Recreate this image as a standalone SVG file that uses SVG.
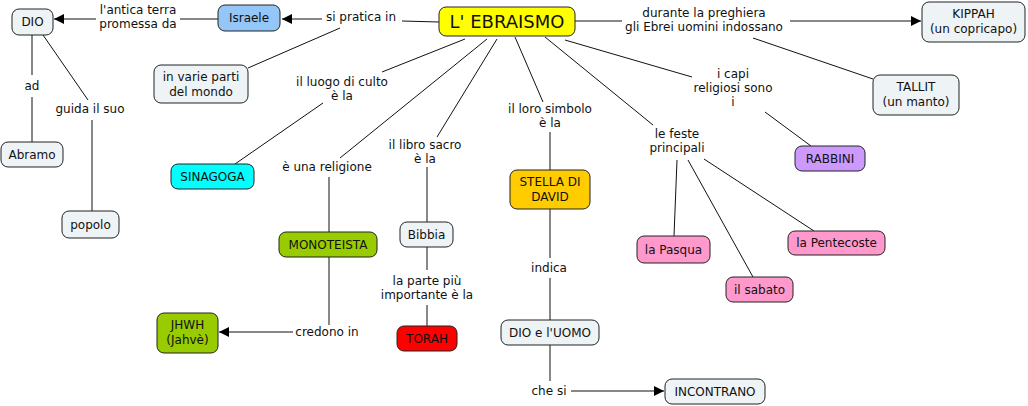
<svg xmlns="http://www.w3.org/2000/svg" width="1028" height="406" viewBox="0 0 1028 406">
<defs>
<style>
.n rect{stroke:#222;stroke-width:1;rx:7;ry:7}
.g{fill:#eef3f6}
text{font-family:"DejaVu Sans",Verdana,sans-serif;font-size:12px;fill:#111;text-anchor:middle}
.c line,.c polyline{stroke:#111;stroke-width:1;fill:none}
.lbl{fill:#111}
</style>
<marker id="ah" viewBox="0 0 10 10" refX="10" refY="5" markerWidth="10" markerHeight="10" markerUnits="userSpaceOnUse" orient="auto">
<path d="M0,0 L10,5 L0,10 z" fill="#000"/>
</marker>
</defs>
<rect width="1028" height="406" fill="#fff"/>
<g class="c" id="connectors">
<line x1="218" y1="19" x2="180" y2="19"/>
<line x1="96" y1="19" x2="54" y2="19" marker-end="url(#ah)"/>
<line x1="439" y1="22" x2="402" y2="21"/>
<line x1="322" y1="19" x2="282" y2="19" marker-end="url(#ah)"/>
<line x1="340" y1="28" x2="248" y2="68"/>
<line x1="575" y1="21" x2="622" y2="21"/>
<line x1="790" y1="21" x2="921" y2="21" marker-end="url(#ah)"/>
<line x1="753" y1="38" x2="873" y2="79"/>
<line x1="565" y1="40" x2="692" y2="77"/>
<line x1="765" y1="112" x2="811" y2="146"/>
<line x1="545" y1="37" x2="653" y2="125"/>
<line x1="677" y1="160" x2="674" y2="236"/>
<line x1="688" y1="160" x2="753" y2="277"/>
<line x1="704" y1="159" x2="814" y2="231"/>
<line x1="515" y1="37" x2="543" y2="102"/>
<line x1="550" y1="132" x2="550" y2="170"/>
<line x1="550" y1="209" x2="550" y2="258"/>
<line x1="550" y1="278" x2="550" y2="320"/>
<line x1="550" y1="345" x2="550" y2="381"/>
<line x1="571" y1="391" x2="664" y2="391" marker-end="url(#ah)"/>
<line x1="497" y1="39" x2="437" y2="137"/>
<line x1="427" y1="167" x2="427" y2="222"/>
<line x1="427" y1="247" x2="427" y2="270"/>
<line x1="427" y1="305" x2="427" y2="326"/>
<line x1="487" y1="39" x2="340" y2="158"/>
<line x1="329" y1="177" x2="329" y2="232"/>
<line x1="329" y1="257" x2="329" y2="325"/>
<line x1="293" y1="332" x2="219" y2="332" marker-end="url(#ah)"/>
<line x1="465" y1="39" x2="382" y2="72"/>
<line x1="323" y1="103" x2="235" y2="164"/>
<line x1="32" y1="35" x2="32" y2="75"/>
<line x1="32" y1="97" x2="32" y2="142"/>
<line x1="43" y1="35" x2="88" y2="100"/>
<line x1="92" y1="120" x2="92" y2="211"/>
</g>
<g id="labels">
<text x="138" y="14">l'antica terra</text>
<text x="138" y="28">promessa da</text>
<text x="361" y="21">si pratica in</text>
<text x="704" y="17">durante la preghiera</text>
<text x="704" y="31">gli Ebrei uomini indossano</text>
<text x="733" y="78">i capi</text>
<text x="733" y="92">religiosi sono</text>
<text x="733" y="106">i</text>
<text x="677" y="138">le feste</text>
<text x="677" y="152">principali</text>
<text x="550" y="113">il loro simbolo</text>
<text x="550" y="127">è la</text>
<text x="549" y="272">indica</text>
<text x="549" y="395">che si</text>
<text x="425" y="149">il libro sacro</text>
<text x="425" y="163">è la</text>
<text x="427" y="285">la parte più</text>
<text x="427" y="299">importante è la</text>
<text x="327" y="171">è una religione</text>
<text x="327" y="336">credono in</text>
<text x="342" y="86">il luogo di culto</text>
<text x="342" y="100">è la</text>
<text x="32" y="90">ad</text>
<text x="90" y="113">guida il suo</text>
</g>
<g class="n" id="n-dio"><rect class="g" x="12" y="9" width="41" height="26"/><text x="32.5" y="26">DIO</text></g>
<g class="n" id="n-israele"><rect x="218" y="5" width="62" height="26" fill="#94c6f7"/><text x="249" y="22">Israele</text></g>
<g class="n" id="n-ebraismo"><rect x="439" y="7" width="136" height="29" fill="#ffff00"/><text x="507" y="28" style="font-size:18px">L' EBRAISMO</text></g>
<g class="n" id="n-kippah"><rect class="g" x="922" y="2" width="103" height="40"/><text x="973.5" y="18">KIPPAH</text><text x="973.5" y="33">(un copricapo)</text></g>
<g class="n" id="n-tallit"><rect class="g" x="873" y="75" width="86" height="40"/><text x="916" y="91">TALLIT</text><text x="916" y="106">(un manto)</text></g>
<g class="n" id="n-varie"><rect class="g" x="154" y="65" width="94" height="38"/><text x="201" y="81">in varie parti</text><text x="201" y="96">del mondo</text></g>
<g class="n" id="n-abramo"><rect class="g" x="1" y="142" width="62" height="25"/><text x="32" y="159">Abramo</text></g>
<g class="n" id="n-popolo"><rect class="g" x="62" y="211" width="57" height="27"/><text x="90.5" y="229">popolo</text></g>
<g class="n" id="n-sinagoga"><rect x="171" y="164" width="83" height="25" fill="#00ffff"/><text x="212.5" y="181">SINAGOGA</text></g>
<g class="n" id="n-monoteista"><rect x="279" y="232" width="98" height="25" fill="#99cc00"/><text x="328" y="249">MONOTEISTA</text></g>
<g class="n" id="n-jhwh"><rect x="157" y="313" width="61" height="40" fill="#99cc00"/><text x="187.5" y="329">JHWH</text><text x="187.5" y="344">(Jahvè)</text></g>
<g class="n" id="n-bibbia"><rect class="g" x="400" y="222" width="53" height="25"/><text x="426.5" y="239">Bibbia</text></g>
<g class="n" id="n-torah"><rect x="397" y="326" width="60" height="25" fill="#ff0000"/><text x="427" y="343">TORAH</text></g>
<g class="n" id="n-stella"><rect x="510" y="170" width="80" height="39" fill="#ffcc00"/><text x="550" y="186">STELLA DI</text><text x="550" y="201">DAVID</text></g>
<g class="n" id="n-dioeuomo"><rect class="g" x="501" y="320" width="98" height="25"/><text x="550" y="337">DIO e l'UOMO</text></g>
<g class="n" id="n-incontrano"><rect class="g" x="665" y="379" width="100" height="25"/><text x="715" y="396">INCONTRANO</text></g>
<g class="n" id="n-rabbini"><rect x="795" y="146" width="70" height="25" fill="#cc99ff"/><text x="830" y="163">RABBINI</text></g>
<g class="n" id="n-pasqua"><rect x="637" y="236" width="73" height="27" fill="#ff99cc"/><text x="673.5" y="254">la Pasqua</text></g>
<g class="n" id="n-sabato"><rect x="726" y="277" width="67" height="25" fill="#ff99cc"/><text x="759.5" y="294">il sabato</text></g>
<g class="n" id="n-pentecoste"><rect x="788" y="231" width="97" height="24" fill="#ff99cc"/><text x="836.5" y="247">la Pentecoste</text></g>
</svg>
